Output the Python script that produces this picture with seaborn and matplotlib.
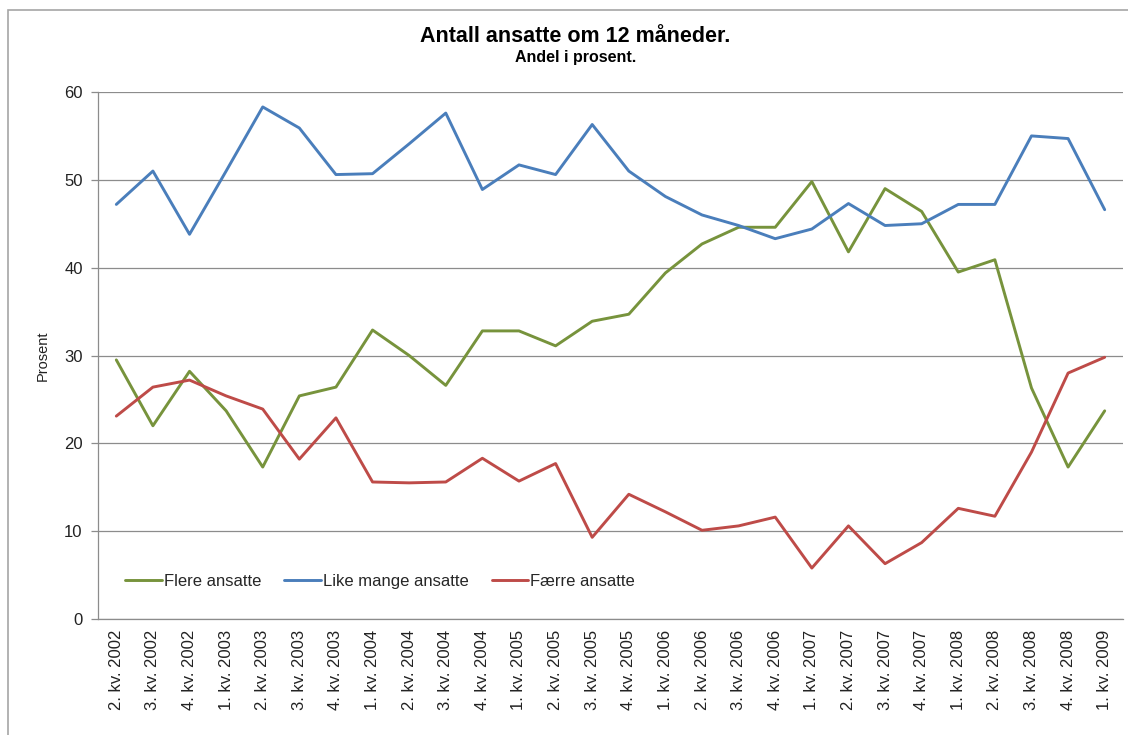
import matplotlib
matplotlib.use("Agg")
import matplotlib.pyplot as plt
import numpy as np
import pandas as pd
import seaborn as sns
from matplotlib.patches import Rectangle

sns.set_theme(style="white")
plt.rcParams['font.family'] = ['Liberation Sans', 'DejaVu Sans']

quarters = ['2. kv. 2002', '3. kv. 2002', '4. kv. 2002',
            '1. kv. 2003', '2. kv. 2003', '3. kv. 2003', '4. kv. 2003',
            '1. kv. 2004', '2. kv. 2004', '3. kv. 2004', '4. kv. 2004',
            '1. kv. 2005', '2. kv. 2005', '3. kv. 2005', '4. kv. 2005',
            '1. kv. 2006', '2. kv. 2006', '3. kv. 2006', '4. kv. 2006',
            '1. kv. 2007', '2. kv. 2007', '3. kv. 2007', '4. kv. 2007',
            '1. kv. 2008', '2. kv. 2008', '3. kv. 2008', '4. kv. 2008',
            '1. kv. 2009']

flere = [29.5, 22.0, 28.2, 23.7, 17.3, 25.4, 26.4, 32.9, 30.0, 26.6, 32.8, 32.8,
         31.1, 33.9, 34.7, 39.4, 42.7, 44.6, 44.6, 49.8, 41.8, 49.0, 46.4, 39.5,
         40.9, 26.3, 17.3, 23.7]
like_mange = [47.2, 51.0, 43.8, 51.0, 58.3, 55.9, 50.6, 50.7, 54.1, 57.6, 48.9, 51.7,
              50.6, 56.3, 51.0, 48.1, 46.0, 44.8, 43.3, 44.4, 47.3, 44.8, 45.0, 47.2,
              47.2, 55.0, 54.7, 46.6]
faerre = [23.1, 26.4, 27.2, 25.4, 23.9, 18.2, 22.9, 15.6, 15.5, 15.6, 18.3, 15.7,
          17.7, 9.3, 14.2, 12.2, 10.1, 10.6, 11.6, 5.8, 10.6, 6.3, 8.7, 12.6,
          11.7, 19.0, 28.0, 29.8]

series_names = ['Flere ansatte', 'Like mange ansatte', 'Færre ansatte']
colors = ['#77933C', '#4A7EBB', '#BE4B48']

df = pd.concat([
    pd.DataFrame({'Kvartal': quarters, 'Prosent': vals, 'Serie': name})
    for name, vals in zip(series_names, [flere, like_mange, faerre])
])
df['pos'] = df.groupby('Serie').cumcount()

fig = plt.figure(figsize=(11.28, 7.35), dpi=100)
ax = fig.add_axes([98 / 1128, 116 / 735, 1025 / 1128, 527 / 735])

sns.lineplot(data=df, x='pos', y='Prosent', hue='Serie', hue_order=series_names,
             palette=colors, linewidth=2.1, ax=ax, legend=True)

ax.set_xlim(-0.5, len(quarters) - 0.5)
ax.set_ylim(0, 60)
ax.set_yticks(range(0, 61, 10))
ax.yaxis.grid(True, color='#8C8C8C', linewidth=0.9)
ax.xaxis.grid(False)
ax.set_xticks(range(len(quarters)))
ax.set_xticklabels(quarters, rotation=90, fontsize=12, color='#222222')
ax.set_xticks(np.arange(-0.5, len(quarters), 1), minor=True)
ax.tick_params(axis='x', which='major', length=0, pad=8)
ax.tick_params(axis='x', which='minor', length=5, width=0.9, color='#8C8C8C', direction='out')
ax.tick_params(axis='y', length=5, width=0.9, color='#8C8C8C', direction='out',
               labelsize=12, labelcolor='#222222', pad=6, left=True)
for side in ['top', 'right']:
    ax.spines[side].set_visible(False)
for side in ['left', 'bottom']:
    ax.spines[side].set_color('#8C8C8C')
    ax.spines[side].set_linewidth(0.9)
ax.set_xlabel('')
ax.set_ylabel('Prosent', fontsize=10.5, color='#222222')
ax.yaxis.set_label_coords(-0.047, 0.5)

leg = ax.legend(loc='lower left', bbox_to_anchor=(0.02, 0.045), ncol=3, frameon=False,
                fontsize=12, handlelength=2.2, handletextpad=0.1, columnspacing=1.4,
                borderaxespad=0)

fig.text(0.51, 0.951, 'Antall ansatte om 12 måneder.', ha='center', va='center',
         fontsize=15.5, fontweight='bold', color='black')
fig.text(0.51, 0.922, 'Andel i prosent.', ha='center', va='center',
         fontsize=11.5, fontweight='bold', color='black')

fig.patches.append(Rectangle((8 / 1128, -0.1), 1.2, 0.1 + (735 - 10) / 735,
                             transform=fig.transFigure, fill=False,
                             edgecolor='#A6A6A6', linewidth=1.2))

fig.savefig('out.png', dpi=100)
